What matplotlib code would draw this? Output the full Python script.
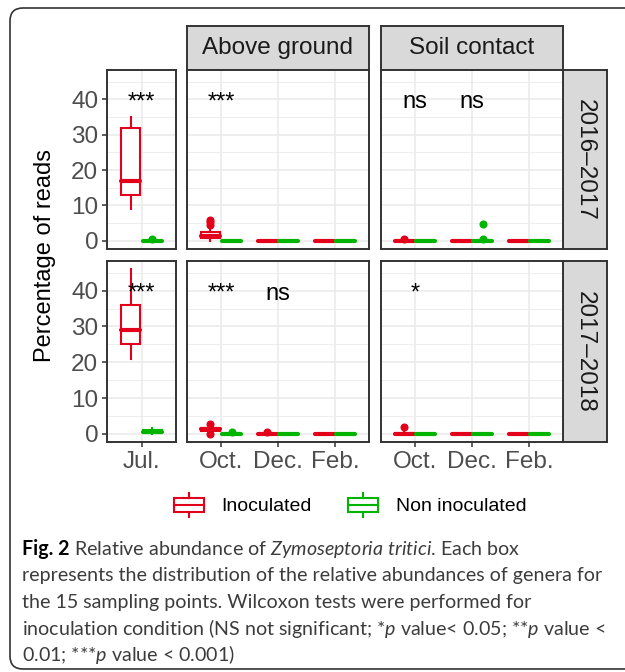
import numpy as np
import matplotlib
matplotlib.use("Agg")
import matplotlib.pyplot as plt
from matplotlib.patches import Rectangle, FancyBboxPatch, Patch
from matplotlib.lines import Line2D
from matplotlib.legend_handler import HandlerBase

plt.rcParams["font.family"] = ["Liberation Sans", "DejaVu Sans"]
plt.rcParams["mathtext.fontset"] = "custom"
plt.rcParams["mathtext.rm"] = "Lato"
plt.rcParams["mathtext.it"] = "Lato:italic"
plt.rcParams["mathtext.bf"] = "Lato:bold"

# ---- data ----
seasons = ["2016\u20132017", "2017\u20132018"]
sites = ["Above ground", "Soil contact"]
month_labels = ["Jul.", "Oct.", "Dec.", "Feb.", "Oct.", "Dec.", "Feb."]
series = ["Inoculated", "Non inoculated"]

# (whislo, q1, med, q3, whishi) per box
# order: Jul. | Above ground Oct., Dec., Feb. | Soil contact Oct., Dec., Feb.
inoc_1617 = [(9, 13, 17, 32, 35), (0.1, 0.7, 1.4, 2.5, 3.0), (0, 0, 0, 0, 0),
             (0, 0, 0, 0, 0), (0, 0, 0, 0, 0.3), (0, 0, 0, 0, 0), (0, 0, 0, 0, 0)]
inoc_1617_out = [[], [4.6, 5.3, 5.9], [], [], [0.6], [], []]
non_1617 = [(0, 0, 0, 0.1, 0.3), (0, 0, 0, 0, 0), (0, 0, 0, 0, 0),
            (0, 0, 0, 0, 0), (0, 0, 0, 0, 0), (0, 0, 0, 0.1, 0.3), (0, 0, 0, 0, 0)]
non_1617_out = [[0.6], [], [], [], [], [0.6, 4.7], []]

inoc_1718 = [(21, 25, 29, 36, 46), (0.4, 0.9, 1.2, 1.5, 2.0), (0, 0, 0, 0, 0.2),
             (0, 0, 0, 0, 0), (0, 0, 0, 0.3, 0.5), (0, 0, 0, 0, 0), (0, 0, 0, 0, 0)]
inoc_1718_out = [[], [0.0, 2.8], [0.6], [], [1.8], [], []]
non_1718 = [(0, 0.1, 0.4, 1.0, 1.7), (0, 0, 0, 0, 0.2), (0, 0, 0, 0, 0),
            (0, 0, 0, 0, 0), (0, 0, 0, 0, 0), (0, 0, 0, 0, 0), (0, 0, 0, 0, 0)]
non_1718_out = [[], [0.6], [], [], [], [], []]

signif_1617 = ["***", "***", "", "", "ns", "ns", ""]
signif_1718 = ["***", "***", "ns", "", "*", "", ""]

yticks = [0, 10, 20, 30, 40]

RED = "#E2001A"
GREEN = "#00B400"
DARK = "#333333"

W, H = 625, 672
fig = plt.figure(figsize=(W / 100, H / 100), dpi=100)


def px_rect(x0, y0, x1, y1):
    return [x0 / W, 1 - y1 / H, (x1 - x0) / W, (y1 - y0) / H]


def to_stats(summ, outs):
    out = []
    for (lo, q1, med, q3, hi), fl in zip(summ, outs):
        out.append(dict(whislo=lo, q1=q1, med=med, q3=q3, whishi=hi, fliers=fl))
    return out


def draw_boxes(ax, stats, pos, color):
    ax.bxp(stats, positions=pos, widths=0.34, showcaps=False, patch_artist=True,
           boxprops=dict(facecolor="white", edgecolor=color, linewidth=1.5),
           medianprops=dict(color=color, linewidth=3, solid_capstyle="round"),
           whiskerprops=dict(color=color, linewidth=1.5),
           flierprops=dict(marker="o", markerfacecolor=color, markeredgecolor=color,
                           markersize=4.8))


cols_px = [(107, 176), (187, 369), (381, 563)]
rows_px = [(70, 249), (261, 442)]
col_idx = [[0], [1, 2, 3], [4, 5, 6]]

data_rows = [(to_stats(inoc_1617, inoc_1617_out), to_stats(non_1617, non_1617_out), signif_1617),
             (to_stats(inoc_1718, inoc_1718_out), to_stats(non_1718, non_1718_out), signif_1718)]

for r, (y0, y1) in enumerate(rows_px):
    st_in, st_non, sig = data_rows[r]
    for c, (x0, x1) in enumerate(cols_px):
        ax = fig.add_axes(px_rect(x0, y0, x1, y1))
        idx = col_idx[c]
        pos = np.arange(1, len(idx) + 1)
        draw_boxes(ax, [st_in[i] for i in idx], pos - 0.1875, RED)
        draw_boxes(ax, [st_non[i] for i in idx], pos + 0.1875, GREEN)
        for p, i in zip(pos, idx):
            if sig[i]:
                ax.text(p, 37.5, sig[i], ha="center", va="baseline", fontsize=17,
                        color="black")
        ax.set_xlim(0.4, len(idx) + 0.6)
        ax.set_ylim(-2.3, 48.3)
        ax.set_xticks(pos)
        ax.set_xticklabels([month_labels[i] for i in idx])
        ax.set_yticks(yticks)
        ax.set_yticks([5, 15, 25, 35, 45], minor=True)
        ax.grid(which="major", color="#EBEBEB", linewidth=1.2)
        ax.grid(which="minor", axis="y", color="#EBEBEB", linewidth=0.6)
        ax.set_axisbelow(True)
        ax.tick_params(which="minor", length=0)
        ax.tick_params(which="major", length=3.8, width=1.1, color=DARK,
                       labelcolor="#4D4D4D", labelsize=17.5)
        ax.tick_params(axis="x", pad=3)
        ax.tick_params(axis="y", pad=2.5)
        if r == 0:
            ax.tick_params(bottom=False, labelbottom=False)
        if c > 0:
            ax.tick_params(left=False, labelleft=False)
        for s in ax.spines.values():
            s.set_color(DARK)
            s.set_linewidth(1.4)
        ax.set_zorder(2)

        if r == 0 and c > 0:
            sax = fig.add_axes(px_rect(x0, 26, x1, 70))
            sax.set_facecolor("#D9D9D9")
            sax.set_xticks([])
            sax.set_yticks([])
            for s in sax.spines.values():
                s.set_color(DARK)
                s.set_linewidth(1.4)
            sax.text(0.5, 0.5, sites[c - 1], transform=sax.transAxes, ha="center",
                     va="center", fontsize=17.5, color="#1A1A1A")
    rax = fig.add_axes(px_rect(563, y0, 607, y1))
    rax.set_facecolor("#D9D9D9")
    rax.set_xticks([])
    rax.set_yticks([])
    for s in rax.spines.values():
        s.set_color(DARK)
        s.set_linewidth(1.4)
    rax.text(0.5, 0.5, seasons[r], transform=rax.transAxes, ha="center", va="center",
             rotation=-90, fontsize=17.5, color="#1A1A1A")

fig.text(45 / W, 1 - 256 / H, "Percentage of reads", rotation=90, ha="center",
         va="center", fontsize=17, color="black")


# legend with box-shaped keys
class BoxKey(HandlerBase):
    def create_artists(self, legend, orig, xd, yd, width, height, fontsize, trans):
        c = orig.get_edgecolor()
        x0, y0 = -xd, -yd
        box = Rectangle((x0, y0 + 0.2 * height), width, 0.6 * height, facecolor="white",
                        edgecolor=c, linewidth=1.5, transform=trans)
        med = Line2D([x0, x0 + width], [y0 + 0.5 * height] * 2, color=c, lw=1.5,
                     transform=trans)
        w1 = Line2D([x0 + width / 2] * 2, [y0, y0 + 0.2 * height], color=c, lw=1.5,
                    transform=trans)
        w2 = Line2D([x0 + width / 2] * 2, [y0 + 0.8 * height, y0 + height], color=c,
                    lw=1.5, transform=trans)
        return [box, med, w1, w2]


handles = [Patch(edgecolor=RED, facecolor="white", label=series[0]),
           Patch(edgecolor=GREEN, facecolor="white", label=series[1])]
fig.legend(handles=handles, loc="center", bbox_to_anchor=(350 / W, 1 - 505 / H),
           ncol=2, frameon=False, fontsize=14, handlelength=1.55, handleheight=1.6,
           handletextpad=0.9, columnspacing=1.85,
           handler_map={Patch: BoxKey()})

# outer rounded frame (runs off the right edge)
frame = FancyBboxPatch((0.10, 0.03), 6.4, 6.61, boxstyle="round,pad=0,rounding_size=0.13",
                       transform=fig.dpi_scale_trans, facecolor="none", edgecolor=DARK,
                       linewidth=1.2)
fig.patches.append(frame)

# caption
cap_color = "#3C3C3C"
cap_fs = 14.1
x_cap = 22 / W
renderer = fig.canvas.get_renderer()
t = fig.text(x_cap, 1 - 555 / H, "Fig. 2", fontsize=cap_fs, family="Lato",
             weight="bold", color="black", va="baseline")
bb = t.get_window_extent(renderer)
fig.text(bb.x1 / W + 4 / W, 1 - 555 / H,
         r"Relative abundance of $\mathit{Zymoseptoria\ tritici}$. Each box",
         fontsize=cap_fs, family="Lato", color=cap_color, va="baseline")
cap_lines = ["represents the distribution of the relative abundances of genera for",
             "the 15 sampling points. Wilcoxon tests were performed for",
             r"inoculation condition (NS not significant; *$\mathit{p}$ value< 0.05; **$\mathit{p}$ value <",
             r"0.01; ***$\mathit{p}$ value < 0.001)"]
for k, line in enumerate(cap_lines):
    fig.text(x_cap, 1 - (555 + 26.5 * (k + 1)) / H, line, fontsize=cap_fs, family="Lato",
             color=cap_color, va="baseline")

fig.savefig("out.png", dpi=100)
